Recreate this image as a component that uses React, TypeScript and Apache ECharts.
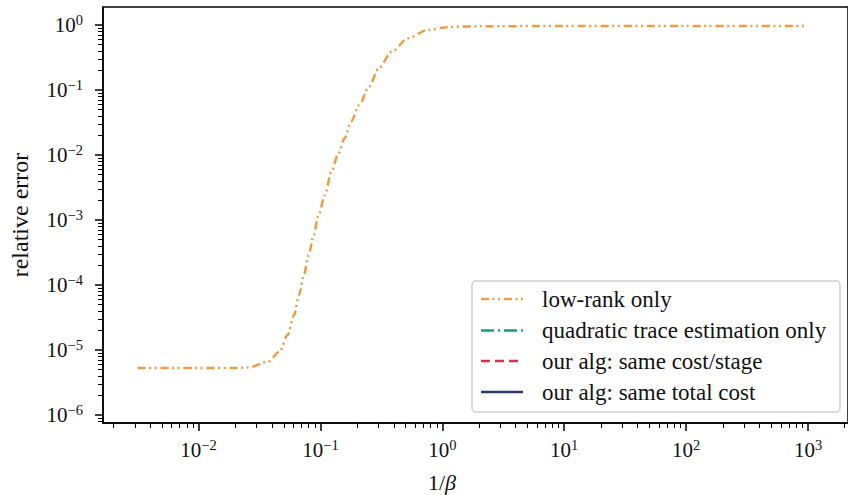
import React, { useEffect, useRef } from "react";
import * as echarts from "echarts";

// 1/beta values and relative error of the "low-rank only" curve
const invBeta = [0.00316, 0.006, 0.01, 0.02, 0.0257, 0.0372, 0.0461, 0.0537, 0.0608, 0.0667, 0.0731, 0.0802, 0.0879, 0.0964, 0.109, 0.123, 0.139, 0.158, 0.178, 0.208, 0.25, 0.301, 0.384, 0.522, 0.755, 1.09, 1.39, 2, 10, 100, 1000];
const lowRankErr = [5.28e-6, 5.28e-6, 5.28e-6, 5.28e-6, 5.4e-6, 6.6e-6, 9.4e-6, 1.7e-5, 3.45e-5, 7.0e-5, 1.43e-4, 2.9e-4, 5.87e-4, 1.19e-3, 2.43e-3, 5.53e-3, 0.01, 0.0181, 0.0325, 0.0587, 0.112, 0.216, 0.388, 0.624, 0.838, 0.923, 0.945, 0.958, 0.965, 0.965, 0.965];

const seriesNames = ["low-rank only", "quadratic trace estimation only", "our alg: same cost/stage", "our alg: same total cost"];
const seriesColors = ["#F29B45", "#22977E", "#D6324A", "#27396F"];

const xMajorExps = [-2, -1, 0, 1, 2, 3];
const yMajorExps = [-6, -5, -4, -3, -2, -1, 0];

const X_MIN = -2.784;
const X_MAX = 3.328;
const Y_MIN = -6.123;
const Y_MAX = 0.277;

function minorTicks(lo: number, hi: number): number[] {
  const out: number[] = [];
  for (let d = Math.floor(lo) - 1; d <= Math.ceil(hi); d++) {
    for (let k = 2; k <= 9; k++) {
      const v = d + Math.log10(k);
      if (v >= lo && v <= hi) out.push(v);
    }
  }
  return out;
}

const SERIF = "Liberation Serif";

function expLabel(v: number): string {
  const e = Math.round(v);
  const s = e < 0 ? "\u2212" + String(-e) : String(e);
  return `{b|10}{s|${s}}`;
}

const labelRich = {
  b: { fontSize: 21, fontFamily: SERIF, color: "#111" },
  s: { fontSize: 14.5, fontFamily: SERIF, color: "#111", padding: [0, 0, 10, 0] },
};

export default function App() {
  const ref = useRef<HTMLDivElement>(null);
  useEffect(() => {
    if (!ref.current) return;
    const chart = echarts.init(ref.current, undefined, { renderer: "svg" });
    const lowRankData = invBeta.map((x, i) => [Math.log10(x), Math.log10(lowRankErr[i])]);
    const dashes: any[] = [[8, 3.5, 2, 3.5, 2, 4], [13, 4, 2, 4], [9, 5], null];

    // legend drawn as graphic elements (box, line samples, labels)
    const LEG_X = 472;
    const LEG_Y = 281;
    const rowY = [299, 330.5, 361, 392];
    const legendElems: any[] = [
      {
        type: "rect",
        shape: { x: LEG_X, y: LEG_Y, width: 368, height: 131, r: 4 },
        style: { fill: "#fff", stroke: "#d0d0d0", lineWidth: 1.5 },
        z: 100,
      },
    ];
    seriesNames.forEach((name, i) => {
      legendElems.push({
        type: "line",
        shape: { x1: LEG_X + 9, y1: rowY[i], x2: LEG_X + 51, y2: rowY[i] },
        style: { stroke: seriesColors[i], lineWidth: 2.5, lineDash: dashes[i], lineCap: "butt" },
        z: 101,
      });
      legendElems.push({
        type: "text",
        x: LEG_X + 70,
        y: rowY[i],
        style: { text: name, fontSize: 23, fontFamily: SERIF, fill: "#111", verticalAlign: "middle", align: "left" },
        z: 101,
      });
    });

    const option: any = {
      animation: false,
      backgroundColor: "#fff",
      textStyle: { fontFamily: SERIF },
      grid: {
        left: 94,
        top: 7,
        width: 764,
        height: 416,
        show: true,
        borderColor: "#000",
        borderWidth: 1.5,
        backgroundColor: "transparent",
      },
      xAxis: [
        {
          type: "value",
          min: X_MIN,
          max: X_MAX,
          splitLine: { show: false },
          axisLine: { show: true, onZero: false, lineStyle: { color: "#000", width: 1.5 } },
          axisTick: { show: true, customValues: xMajorExps, length: 8, lineStyle: { color: "#000", width: 1.5 } },
          axisLabel: { show: true, customValues: xMajorExps, formatter: expLabel, rich: labelRich, margin: 14 },
        },
        {
          type: "value",
          min: X_MIN,
          max: X_MAX,
          position: "bottom",
          splitLine: { show: false },
          axisLine: { show: false, onZero: false },
          axisTick: { show: true, customValues: minorTicks(X_MIN, X_MAX), length: 5, lineStyle: { color: "#000", width: 1 } },
          axisLabel: { show: false },
        },
      ],
      yAxis: [
        {
          type: "value",
          min: Y_MIN,
          max: Y_MAX,
          splitLine: { show: false },
          axisLine: { show: true, onZero: false, lineStyle: { color: "#000", width: 1.5 } },
          axisTick: { show: true, customValues: yMajorExps, length: 8, lineStyle: { color: "#000", width: 1.5 } },
          axisLabel: { show: true, customValues: yMajorExps, formatter: expLabel, rich: labelRich, margin: 20 },
          name: "relative error",
          nameLocation: "middle",
          nameGap: 71,
          nameTextStyle: { fontSize: 24, fontFamily: SERIF, color: "#111" },
        },
        {
          type: "value",
          min: Y_MIN,
          max: Y_MAX,
          position: "left",
          splitLine: { show: false },
          axisLine: { show: false, onZero: false },
          axisTick: { show: true, customValues: minorTicks(Y_MIN, Y_MAX), length: 5, lineStyle: { color: "#000", width: 1 } },
          axisLabel: { show: false },
        },
      ],
      graphic: [
        ...legendElems,
        {
          type: "text",
          x: 442,
          y: 482,
          style: {
            text: "{a|1/}{b|\u03b2}",
            align: "center",
            verticalAlign: "middle",
            rich: {
              a: { fontSize: 22, fontFamily: SERIF, fill: "#111" },
              b: { fontSize: 22, fontFamily: SERIF, fontStyle: "italic", fill: "#111" },
            },
          },
        },
      ],
      series: seriesNames.map((name, i) => ({
        type: "line",
        name,
        xAxisIndex: 0,
        yAxisIndex: 0,
        data: i === 0 ? lowRankData : [],
        symbol: "none",
        showSymbol: false,
        smooth: 0.3,
        smoothMonotone: "x",
        z: 10 - i,
        itemStyle: { color: seriesColors[i] },
        lineStyle: { color: seriesColors[i], width: 2.5, type: dashes[i] || "solid", cap: "butt" },
      })),
    };
    chart.setOption(option);
    return () => chart.dispose();
  }, []);
  return <div ref={ref} style={{ position: "absolute", left: 0, top: 0, width: 848, height: 495 }} />;
}
